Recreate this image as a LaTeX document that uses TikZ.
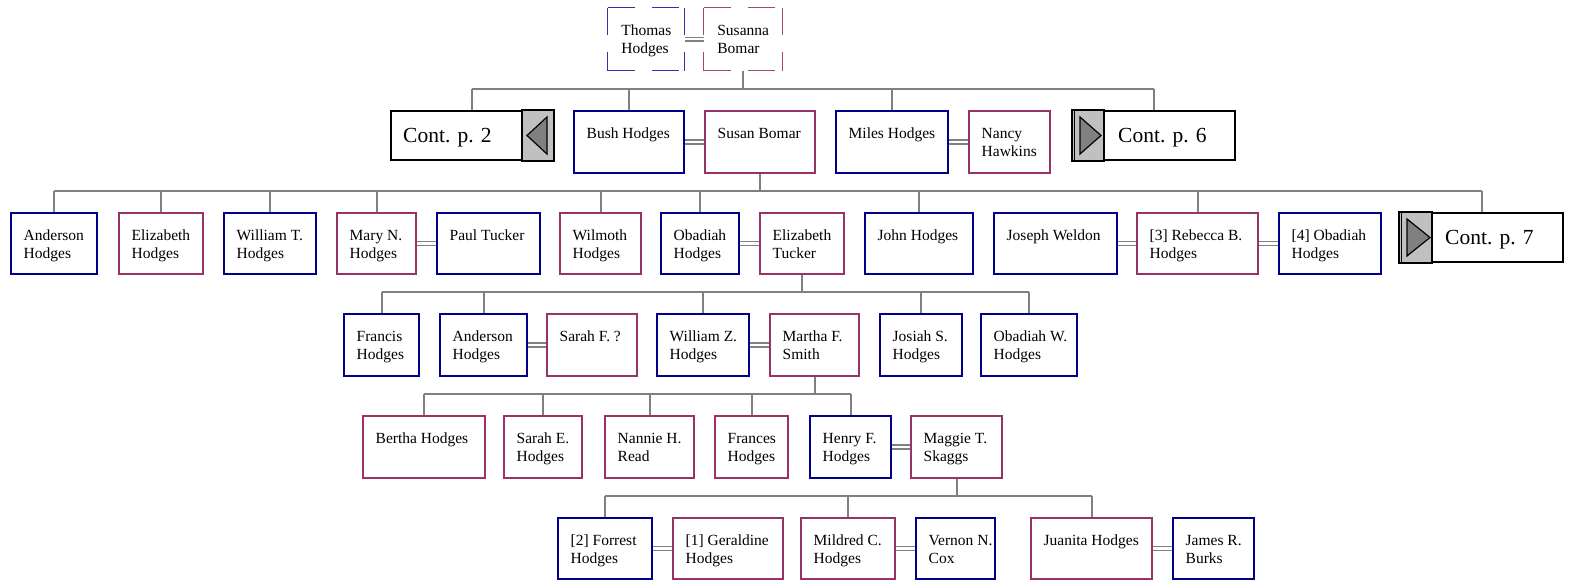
\documentclass[tikz,border=0pt]{standalone}
\usepackage{fontspec}
\setmainfont{Liberation Serif}
\usetikzlibrary{backgrounds}
\definecolor{mblue}{RGB}{0,0,140}
\definecolor{fpurp}{RGB}{153,51,102}
\definecolor{dblue}{RGB}{50,50,170}
\definecolor{dpurp}{RGB}{165,70,120}
\definecolor{lgray}{RGB}{128,128,128}
\definecolor{secgray}{RGB}{192,192,192}
\tikzset{
 box/.style={draw, line width=2pt, inner sep=0pt, anchor=north west, fill=white},
 male/.style={box, draw=mblue},
 female/.style={box, draw=fpurp},
 dbox/.style={inner sep=0pt, anchor=north west},
 dline/.style={line width=1.3pt, dash pattern=on 27pt off 17pt},
 ptext/.style={inner sep=0pt, anchor=base west, font=\fontsize{15.5}{18}\selectfont},
 ctext/.style={inner sep=0pt, anchor=base west, font=\fontsize{21.5}{24}\selectfont},
 conn/.style={draw=lgray, line width=2pt},
 marr/.style={draw=lgray, line width=1.4pt, double=white, double distance=2.4pt},
 contbox/.style={draw=black, line width=2pt, fill=white, inner sep=0pt, anchor=north west},
 secfill/.style={draw=black, line width=1.6pt, fill=secgray},
 tri/.style={draw=black, line width=1.2pt, fill=lgray, line join=miter}
}
\newcommand\tl[2]{\begin{tabular}[t]{@{}l@{}}#1\\#2\end{tabular}}
% name, style, x1, y1, x2, y2, text
\newcommand\person[7]{%
 \node[#2, minimum width={#5-#3-2}, minimum height={#6-#4-2}] (#1) at ({#3+1},{#4+1}) {};
 \node[ptext] (#1-t) at ([xshift=13.5pt,yshift=-28pt]#1.north west) {#7};}
% dashed person: name, colour, x1, y1, x2, y2, text
\newcommand\dperson[7]{%
 \node[dbox, minimum width={#5-#3-1.3}, minimum height={#6-#4-1.3}] (#1) at ({#3+0.65},{#4+0.65}) {};
 \draw[dline, draw=#2] (#1.north west) -- (#1.north east) (#1.south west) -- (#1.south east)
   (#1.north west) -- (#1.south west) (#1.north east) -- (#1.south east);
 \node[ptext] (#1-t) at ([xshift=13.5pt,yshift=-28pt]#1.north west) {#7};}
\begin{document}
\begin{tikzpicture}[x=1pt,y=-1pt]
\useasboundingbox (0,0) rectangle (1572,581);
% row 0
\dperson{thomas}{dblue}{607}{7}{685}{71}{\tl{Thomas}{Hodges}}
\dperson{susanna}{dpurp}{703}{7}{783}{71}{\tl{Susanna}{Bomar}}
% row 1
\node[contbox, minimum width={164-2}, minimum height={51-2}] (cont2) at (390,110) {};
\draw[secfill] ([xshift=-32pt]cont2.north east) rectangle (cont2.south east);
\draw[tri] ([xshift=-27pt]cont2.east) -- ([xshift=-7pt,yshift=18.5pt]cont2.east) -- ([xshift=-7pt,yshift=-18.5pt]cont2.east) -- cycle;
\node[ctext] (cont2-t) at ([xshift=13pt,yshift=-32pt]cont2.north west) {Cont. p. 2};
\person{bush}{male}{572}{109}{684}{173}{Bush Hodges}
\person{susan}{female}{703}{109}{815}{173}{Susan Bomar}
\person{miles}{male}{834}{109}{948}{173}{Miles Hodges}
\person{nancy}{female}{967}{109}{1050}{173}{\tl{Nancy}{Hawkins}}
\node[contbox, minimum width={164-2}, minimum height={51-2}] (cont6) at (1072,110) {};
\draw[secfill] (cont6.north west) rectangle ([xshift=32pt]cont6.south west);
\draw[line width=1pt] ([xshift=2.6pt]cont6.north west) -- ([xshift=2.6pt]cont6.south west);
\draw[tri] ([xshift=29pt]cont6.west) -- ([xshift=8pt,yshift=18.5pt]cont6.west) -- ([xshift=8pt,yshift=-18.5pt]cont6.west) -- cycle;
\node[ctext] (cont6-t) at ([xshift=46pt,yshift=-32pt]cont6.north west) {Cont. p. 6};
% row 2
\person{anderson}{male}{9}{211}{97}{274}{\tl{Anderson}{Hodges}}
\person{elizabeth}{female}{117}{211}{203}{274}{\tl{Elizabeth}{Hodges}}
\person{williamt}{male}{222}{211}{316}{274}{\tl{William T.}{Hodges}}
\person{maryn}{female}{335}{211}{416}{274}{\tl{Mary N.}{Hodges}}
\person{paul}{male}{435}{211}{540}{274}{Paul Tucker}
\person{wilmoth}{female}{558}{211}{641}{274}{\tl{Wilmoth}{Hodges}}
\person{obadiah}{male}{659}{211}{739}{274}{\tl{Obadiah}{Hodges}}
\person{etucker}{female}{758}{211}{844}{274}{\tl{Elizabeth}{Tucker}}
\person{john}{male}{863}{211}{973}{274}{John Hodges}
\person{joseph}{male}{992}{211}{1117}{274}{Joseph Weldon}
\person{rebecca}{female}{1135}{211}{1258}{274}{\tl{[3] Rebecca B.}{Hodges}}
\person{obadiahf}{male}{1277}{211}{1381}{274}{\tl{[4] Obadiah}{Hodges}}
\node[contbox, minimum width={165-2}, minimum height={51-2}] (cont7) at (1399,212) {};
\draw[secfill] (cont7.north west) rectangle ([xshift=33pt]cont7.south west);
\draw[line width=1pt] ([xshift=2.6pt]cont7.north west) -- ([xshift=2.6pt]cont7.south west);
\draw[tri] ([xshift=31pt]cont7.west) -- ([xshift=8pt,yshift=18.5pt]cont7.west) -- ([xshift=8pt,yshift=-18.5pt]cont7.west) -- cycle;
\node[ctext] (cont7-t) at ([xshift=46pt,yshift=-32pt]cont7.north west) {Cont. p. 7};
% row 3
\person{francis}{male}{342}{312}{419}{376}{\tl{Francis}{Hodges}}
\person{andersonh}{male}{438}{312}{527}{376}{\tl{Anderson}{Hodges}}
\person{sarahf}{female}{545}{312}{637}{376}{Sarah F. ?}
\person{williamz}{male}{655}{312}{749}{376}{\tl{William Z.}{Hodges}}
\person{martha}{female}{768}{312}{859}{376}{\tl{Martha F.}{Smith}}
\person{josiah}{male}{878}{312}{962}{376}{\tl{Josiah S.}{Hodges}}
\person{obadiahw}{male}{979}{312}{1077}{376}{\tl{Obadiah W.}{Hodges}}
% row 4
\person{bertha}{female}{361}{414}{485}{478}{Bertha Hodges}
\person{sarahe}{female}{502}{414}{582}{478}{\tl{Sarah E.}{Hodges}}
\person{nannie}{female}{603}{414}{694}{478}{\tl{Nannie H.}{Read}}
\person{frances}{female}{713}{414}{788}{478}{\tl{Frances}{Hodges}}
\person{henry}{male}{808}{414}{891}{478}{\tl{Henry F.}{Hodges}}
\person{maggie}{female}{909}{414}{1002}{478}{\tl{Maggie T.}{Skaggs}}
% row 5
\person{forrest}{male}{556}{516}{652}{579}{\tl{[2] Forrest}{Hodges}}
\person{geraldine}{female}{671}{516}{783}{579}{\tl{[1] Geraldine}{Hodges}}
\person{mildred}{female}{799}{516}{895}{579}{\tl{Mildred C.}{Hodges}}
\person{vernon}{male}{914}{516}{995}{579}{\tl{Vernon N.}{Cox}}
\person{juanita}{female}{1029}{516}{1152}{579}{Juanita Hodges}
\person{james}{male}{1171}{516}{1254}{579}{\tl{James R.}{Burks}}
% connectors
\begin{scope}[on background layer]
\coordinate (bar0) at (0,89);
\coordinate (bar1) at (0,191);
\coordinate (bar2) at (0,292);
\coordinate (bar3) at (0,394);
\coordinate (bar4) at (0,496);
% family 0
\draw[conn] (susanna.south) -- (susanna.south |- bar0);
\draw[conn] (cont2.north |- bar0) -- (cont6.north |- bar0);
\foreach \c in {cont2,bush,miles,cont6} \draw[conn] (\c.north) -- (\c.north |- bar0);
% family 1
\draw[conn] (susan.south) -- (susan.south |- bar1);
\draw[conn] (anderson.north |- bar1) -- (cont7.north |- bar1);
\foreach \c in {anderson,elizabeth,williamt,maryn,wilmoth,obadiah,john,rebecca,cont7} \draw[conn] (\c.north) -- (\c.north |- bar1);
% family 2
\draw[conn] (etucker.south) -- (etucker.south |- bar2);
\draw[conn] (francis.north |- bar2) -- (obadiahw.north |- bar2);
\foreach \c in {francis,andersonh,williamz,josiah,obadiahw} \draw[conn] (\c.north) -- (\c.north |- bar2);
% family 3
\draw[conn] (martha.south) -- (martha.south |- bar3);
\draw[conn] (bertha.north |- bar3) -- (henry.north |- bar3);
\foreach \c in {bertha,sarahe,nannie,frances,henry} \draw[conn] (\c.north) -- (\c.north |- bar3);
% family 4
\draw[conn] (maggie.south) -- (maggie.south |- bar4);
\draw[conn] (forrest.north |- bar4) -- (juanita.north |- bar4);
\foreach \c in {forrest,mildred,juanita} \draw[conn] (\c.north) -- (\c.north |- bar4);
% marriages
\foreach \a/\b in {thomas/susanna,bush/susan,miles/nancy,maryn/paul,obadiah/etucker,joseph/rebecca,rebecca/obadiahf,andersonh/sarahf,williamz/martha,henry/maggie,forrest/geraldine,mildred/vernon,juanita/james}
  \draw[marr] (\a.east) -- (\b.west);
\end{scope}
\end{tikzpicture}
\end{document}
